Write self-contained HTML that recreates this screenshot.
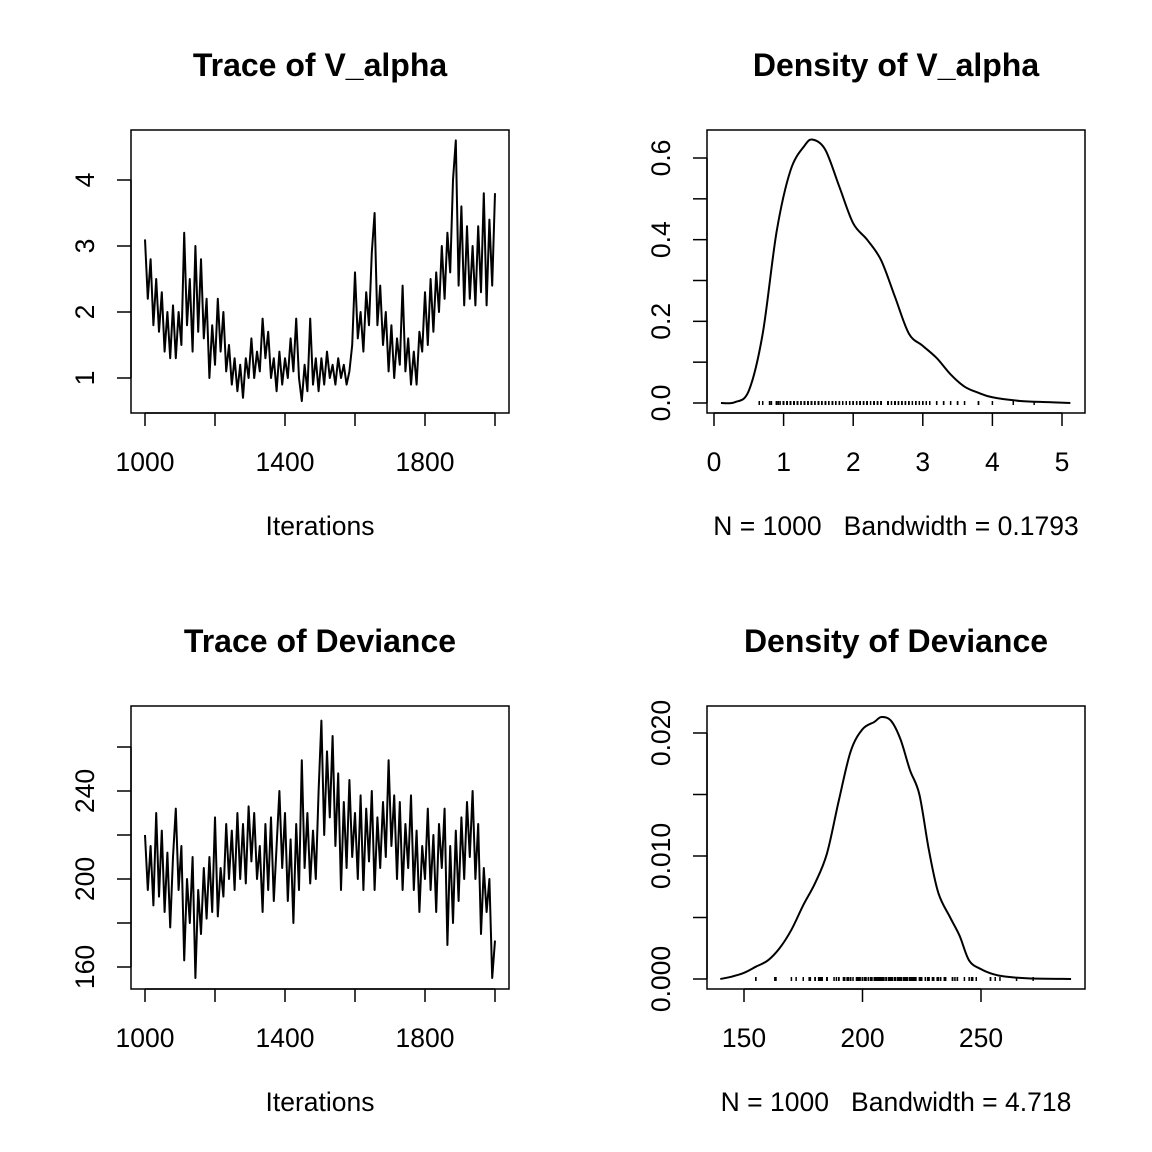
<!DOCTYPE html>
<html><head><meta charset="utf-8"><style>
body{margin:0;background:#fff}
svg{display:block;font-family:"Liberation Sans",Arial,sans-serif}
text{white-space:pre}
</style></head><body>
<svg id="s" width="1152" height="1152" viewBox="0 0 1152 1152"></svg>
<script>
// ---- data ----
const traceIter = Array.from({length:126},(_,i)=>1000+8*i);
const alphaTrace = [3.1,2.2,2.8,1.8,2.5,1.7,2.3,1.4,2.0,1.3,2.1,1.3,2.0,1.5,3.2,1.8,2.5,1.4,3.0,1.7,2.8,1.6,2.2,1.0,1.8,1.2,2.2,1.4,2.0,1.1,1.5,0.9,1.3,0.8,1.2,0.7,1.3,1.0,1.6,1.0,1.4,1.1,1.9,1.3,1.7,1.0,1.3,0.8,1.4,0.9,1.3,1.0,1.6,1.1,1.9,1.0,0.65,1.2,0.8,1.9,0.9,1.3,0.8,1.3,0.9,1.4,1.0,1.2,0.9,1.3,1.0,1.2,0.9,1.1,1.5,2.6,1.6,2.0,1.4,2.3,1.8,2.9,3.5,1.8,2.4,1.5,2.0,1.1,1.8,1.0,1.6,1.2,2.4,1.1,1.6,0.9,1.4,0.9,1.7,1.4,2.3,1.5,2.5,1.7,2.6,2.0,3.0,2.2,3.2,2.6,4.0,4.6,2.4,3.6,2.1,3.3,2.2,3.0,2.1,3.3,2.3,3.8,2.1,3.4,2.4,3.8];
const devTrace = [220,195,215,188,230,192,222,185,212,178,210,232,195,215,163,200,180,210,155,195,175,205,182,210,185,228,183,205,192,225,200,222,195,230,200,225,198,233,208,230,200,215,185,225,195,228,190,215,240,205,230,190,218,180,225,195,254,205,230,198,222,200,240,272,220,258,228,265,215,248,195,235,205,245,210,230,200,238,195,232,208,240,195,228,205,235,210,254,215,238,200,235,195,225,205,238,195,222,185,215,200,232,195,220,185,225,205,232,170,215,180,222,190,228,200,235,210,240,200,225,175,205,185,200,155,172];
const alphaDensX = [0.1,0.3,0.5,0.7,0.9,1.1,1.3,1.42,1.6,1.8,2.0,2.2,2.4,2.6,2.8,3.0,3.2,3.4,3.6,3.8,4.0,4.4,4.8,5.12];
const alphaDensY = [0,0.002,0.03,0.17,0.42,0.57,0.63,0.645,0.62,0.53,0.44,0.40,0.35,0.26,0.17,0.14,0.11,0.07,0.04,0.025,0.014,0.005,0.002,0];
const devDensX = [140,145,150,155,160,165,170,175,180,185,190,195,200,205,208,212,216,220,224,228,232,237,241,245,250,255,260,270,288];
const devDensY = [0,0.0002,0.0005,0.001,0.0015,0.0025,0.004,0.006,0.0078,0.0102,0.0145,0.0185,0.0203,0.0209,0.0213,0.021,0.0195,0.017,0.015,0.0105,0.007,0.005,0.0035,0.0015,0.0008,0.0004,0.0002,0.00005,0];
const iterTicks = [1000,1200,1400,1600,1800,2000];
const iterLabels = [1000,1400,1800];
const alphaTicks = [1,2,3,4];
const devTicks = [160,180,200,220,240,260];
const devLabels = [160,200,240];
const aDensXTicks = [0,1,2,3,4,5];
const aDensYTicks = [0,0.1,0.2,0.3,0.4,0.5,0.6];
const aDensYLabels = ["0.0","0.2","0.4","0.6"];
const dDensXTicks = [150,200,250];
const dDensYTicks = [0,0.005,0.01,0.015,0.02];
const dDensYLabels = ["0.000","0.010","0.020"];

const NS="http://www.w3.org/2000/svg", S=document.getElementById('s');
function el(t,a,p){const e=document.createElementNS(NS,t);for(const k in a)e.setAttribute(k,a[k]);(p||S).appendChild(e);return e;}
function lin(d0,d1,r0,r1){return v=>r0+(v-d0)*(r1-r0)/(d1-d0);}

function panel(name,box,title,xlab,fx,fy,xt,xl,yt,yl,ylFmt){
  const g=el('g',{});
  
  
  const t=el('text',{x:(box[0]+box[2])/2,y:box[1]-54,'text-anchor':'middle','font-size':32,'font-weight':'bold'},g);
  t.textContent=title;
  
  
  const r=el('rect',{x:box[0],y:box[1],width:box[2]-box[0],height:box[3]-box[1],fill:'none',stroke:'#000','stroke-width':1.5},g);
  
  
  const xa=el('g',{},g);
  
  
  el('line',{x1:fx(xt[0]),x2:fx(xt[xt.length-1]),y1:box[3],y2:box[3],stroke:'#000','stroke-width':1.5},xa);
  xt.forEach(v=>el('line',{x1:fx(v),x2:fx(v),y1:box[3],y2:box[3]+13,stroke:'#000','stroke-width':1.5},xa));
  xl.forEach(v=>{const tx=el('text',{x:fx(v),y:box[3]+58,'text-anchor':'middle','font-size':26.5},xa);tx.textContent=v;
    
    });
  const xb=el('text',{x:(box[0]+box[2])/2,y:box[3]+122,'text-anchor':'middle','font-size':26.5},g);xb.textContent=xlab;
  
  
  const ya=el('g',{},g);
  
  
  el('line',{x1:box[0],x2:box[0],y1:fy(yt[0]),y2:fy(yt[yt.length-1]),stroke:'#000','stroke-width':1.5},ya);
  yt.forEach(v=>el('line',{x1:box[0]-14,x2:box[0],y1:fy(v),y2:fy(v),stroke:'#000','stroke-width':1.5},ya));
  yl.forEach((v,i)=>{const val=ylFmt?ylFmt[i]:v;const yy=fy(v);const x=box[0]-37;
    const tx=el('text',{x:x,y:yy,'text-anchor':'middle','font-size':26.5,transform:`rotate(-90 ${x} ${yy})`},ya);tx.textContent=val;
    
    });
  return g;
}
function line(g,xs,ys,fx,fy,name,smooth){
  const P=xs.map((x,i)=>[fx(x),fy(ys[i])]);
  let d='M'+P[0][0].toFixed(2)+','+P[0][1].toFixed(2);
  for(let i=0;i<P.length-1;i++){
    if(!smooth){d+='L'+P[i+1][0].toFixed(2)+','+P[i+1][1].toFixed(2);continue;}
    const p0=P[Math.max(0,i-1)],p1=P[i],p2=P[i+1],p3=P[Math.min(P.length-1,i+2)];
    const c1=[p1[0]+(p2[0]-p0[0])/6,p1[1]+(p2[1]-p0[1])/6],c2=[p2[0]-(p3[0]-p1[0])/6,p2[1]-(p3[1]-p1[1])/6];
    d+='C'+c1.map(v=>v.toFixed(2)).join(',')+' '+c2.map(v=>v.toFixed(2)).join(',')+' '+p2[0].toFixed(2)+','+p2[1].toFixed(2);
  }
  const p=el('path',{d:d,fill:'none',stroke:'#000','stroke-width':2,'stroke-linejoin':'round'},g);
  
  
}
function rug(g,vals,fx,y0,name){
  const rg=el('g',{},g);
  
  
  vals.forEach(v=>el('line',{x1:fx(v),x2:fx(v),y1:y0-2,y2:y0+2,stroke:'#000','stroke-width':1.5},rg));
  for(let i=0;i<vals.length-1;i++){const m=(vals[i]+vals[i+1])/2;el('line',{x1:fx(m),x2:fx(m),y1:y0-2,y2:y0+2,stroke:'#000','stroke-width':1.5},rg);}
}

// Panel 1: trace V_alpha
{const box=[131,130,509,413];const fx=lin(1000,2000,145,495),fy=lin(1,4,378,180);
 const g=panel('trace-v-alpha',box,'Trace of V_alpha','Iterations',fx,fy,iterTicks,iterLabels,alphaTicks,alphaTicks);
 line(g,traceIter,alphaTrace,fx,fy,'trace-line',false);}
// Panel 2: density V_alpha
{const box=[707,130,1085,413];const fx=lin(0,5,714,1062),fy=lin(0,0.6,403,158);
 const g=panel('density-v-alpha',box,'Density of V_alpha','N = 1000   Bandwidth = 0.1793',fx,fy,aDensXTicks,aDensXTicks,aDensYTicks,[0,0.2,0.4,0.6],aDensYLabels);
 line(g,alphaDensX,alphaDensY,fx,fy,'density-curve',true);
 rug(g,alphaTrace,fx,fy(0),'rug');}
// Panel 3: trace deviance
{const box=[131,706,509,989];const fx=lin(1000,2000,145,495),fy=lin(160,240,967,791);
 const g=panel('trace-deviance',box,'Trace of Deviance','Iterations',fx,fy,iterTicks,iterLabels,devTicks,devLabels);
 line(g,traceIter,devTrace,fx,fy,'trace-line',false);}
// Panel 4: density deviance
{const box=[707,706,1085,989];const fx=lin(150,250,744,981),fy=lin(0,0.02,979,733);
 const g=panel('density-deviance',box,'Density of Deviance','N = 1000   Bandwidth = 4.718',fx,fy,dDensXTicks,dDensXTicks,dDensYTicks,[0,0.01,0.02],dDensYLabels);
 line(g,devDensX,devDensY,fx,fy,'density-curve',true);
 rug(g,devTrace,fx,fy(0),'rug');}
</script>
</body></html>
